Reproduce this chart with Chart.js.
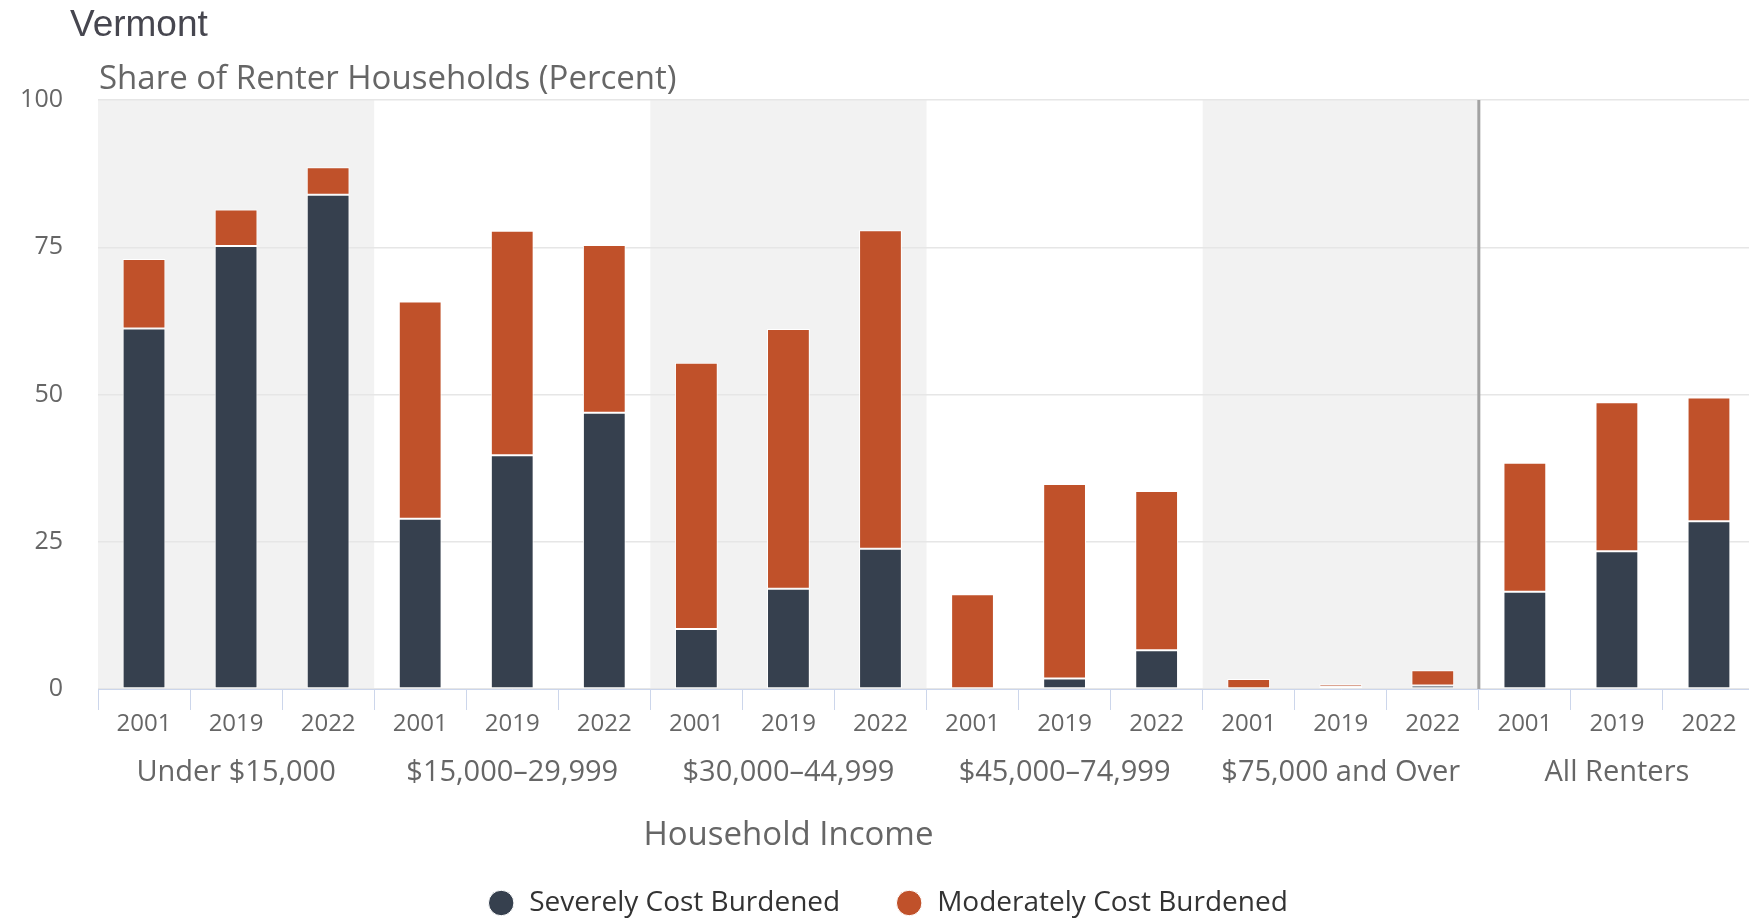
<!DOCTYPE html>
<html>
<head>
<meta charset="utf-8">
<title>Vermont - Cost Burdened Renter Households</title>
<script src="https://cdn.jsdelivr.net/npm/chart.js@4.4.1/dist/chart.umd.min.js"></script>
<style>
  html, body { margin: 0; padding: 0; background: #fff; overflow: hidden; }
  #wrap { width: 1749px; height: 918px; overflow: hidden; position: relative; }
  canvas { position: absolute; left: 0; top: 0; }
</style>
</head>
<body>
<div id="wrap"><canvas id="burdenChart" width="1760" height="927"></canvas></div>
<script>
// chart data
var yearLabels = ['2001', '2019', '2022', '2001', '2019', '2022', '2001', '2019', '2022',
                  '2001', '2019', '2022', '2001', '2019', '2022', '2001', '2019', '2022'];
var groupNames = ['Under $15,000', '$15,000\u201329,999', '$30,000\u201344,999',
                  '$45,000\u201374,999', '$75,000 and Over', 'All Renters'];
var severeValues   = [61.2, 75.2, 83.9, 28.9, 39.7, 46.9, 10.2, 17.0, 23.8, 0, 1.8, 6.6, 0, 0.4, 0.6, 16.5, 23.4, 28.5];
var moderateValues = [11.8, 6.2, 4.7, 36.9, 38.1, 28.5, 45.2, 44.1, 54.1, 16.1, 33.0, 27.0, 1.7, 0.4, 2.6, 21.9, 25.3, 21.0];
var yTicks = [0, 25, 50, 75, 100];

var chartTitle = 'Vermont';
var chartSubtitle = 'Share of Renter Households (Percent)';
var xAxisTitle = 'Household Income';

document.addEventListener("DOMContentLoaded", function() {

Chart.defaults.font.family = "'Open Sans', 'Noto Sans', sans-serif";

// half of one category slot, in pixels
function halfSlot(x) {
    return (x.getPixelForValue(1) - x.getPixelForValue(0)) / 2;
}

// grey bands behind every other income group
var bandPlugin = {
    id: 'bands',
    beforeDraw: function(chart) {
        var ctx = chart.ctx, x = chart.scales.x, area = chart.chartArea;
        var h = halfSlot(x);
        ctx.save();
        ctx.fillStyle = '#f2f2f2';
        for (var g = 0; g < groupNames.length - 1; g += 2) {
            var left = x.getPixelForValue(g * 3) - h;
            var right = x.getPixelForValue(g * 3 + 2) + h;
            ctx.fillRect(left, area.top, right - left, area.bottom - area.top);
        }
        ctx.restore();
    },
    beforeDatasetsDraw: function(chart) {
        // divider before "All Renters"
        var ctx = chart.ctx, x = chart.scales.x, area = chart.chartArea;
        var sx = x.getPixelForValue(15) - halfSlot(x);
        ctx.save();
        ctx.strokeStyle = '#a3a3a3';
        ctx.lineWidth = 3;
        ctx.beginPath();
        ctx.moveTo(sx, area.top);
        ctx.lineTo(sx, area.bottom);
        ctx.stroke();
        ctx.restore();
    }
};

// titles, group labels and the axis title
var textPlugin = {
    id: 'texts',
    afterDraw: function(chart) {
        var ctx = chart.ctx, x = chart.scales.x;
        ctx.save();

        ctx.fillStyle = '#46464f';
        ctx.font = "37px 'Liberation Sans', Arial, sans-serif";
        ctx.textAlign = 'left';
        ctx.textBaseline = 'alphabetic';
        ctx.fillText(chartTitle, 70, 36);

        ctx.fillStyle = '#666666';
        ctx.font = "33px 'Open Sans', sans-serif";
        ctx.fillText(chartSubtitle, 99, 89);

        ctx.textAlign = 'center';
        ctx.textBaseline = 'middle';
        ctx.font = "29px 'Open Sans', sans-serif";
        for (var g = 0; g < groupNames.length; g++) {
            var cx = (x.getPixelForValue(g * 3) + x.getPixelForValue(g * 3 + 2)) / 2;
            ctx.fillText(groupNames[g], cx, 773);
        }

        ctx.font = "33px 'Open Sans', sans-serif";
        var tx = (x.getPixelForValue(0) + x.getPixelForValue(14)) / 2;
        ctx.fillText(xAxisTitle, tx, 836);
        ctx.restore();
    }
};

var ctx = document.getElementById('burdenChart').getContext('2d');

var burdenChart = new Chart(ctx, {
    type: 'bar',
    data: {
        labels: yearLabels,
        datasets: [{
            label: 'Severely Cost Burdened',
            data: severeValues,
            backgroundColor: '#36404e',
            borderColor: '#ffffff',
            borderWidth: 1,
            borderSkipped: false,
            barPercentage: 0.465,
            categoryPercentage: 1.0
        }, {
            label: 'Moderately Cost Burdened',
            data: moderateValues,
            backgroundColor: '#c0512a',
            borderColor: '#ffffff',
            borderWidth: 1,
            borderSkipped: false,
            barPercentage: 0.465,
            categoryPercentage: 1.0
        }]
    },
    options: {
        responsive: false,
        animation: false,
        devicePixelRatio: 1,
        layout: {
            padding: { top: 100, left: 20, right: 5, bottom: 0 }
        },
        plugins: {
            tooltip: { enabled: false },
            legend: {
                position: 'bottom',
                labels: {
                    usePointStyle: true,
                    pointStyle: 'circle',
                    boxWidth: 28,
                    boxHeight: 18,
                    padding: 55,
                    color: '#333333',
                    font: { size: 28 }
                }
            }
        },
        scales: {
            x: {
                stacked: true,
                grid: {
                    display: true,
                    drawOnChartArea: false,
                    drawTicks: true,
                    tickLength: 21,
                    color: '#ccd6eb',
                    offset: true
                },
                border: { display: true, color: '#ccd6eb', width: 1 },
                ticks: {
                    color: '#666666',
                    font: { size: 24 },
                    padding: 0,
                    maxRotation: 0,
                    autoSkip: false
                },
                afterFit: function(scale) { scale.height = 145; }
            },
            y: {
                stacked: true,
                min: 0,
                max: 100,
                afterBuildTicks: function(scale) {
                    scale.ticks = yTicks.map(function(v) { return { value: v }; });
                },
                ticks: {
                    color: '#666666',
                    font: { size: 25 },
                    padding: 35
                },
                grid: { color: '#e6e6e6', lineWidth: 1.5, drawTicks: false },
                border: { display: false },
                afterFit: function(scale) { scale.width = 78; }
            }
        }
    },
    plugins: [bandPlugin, textPlugin]
});

});
</script>
</body>
</html>
